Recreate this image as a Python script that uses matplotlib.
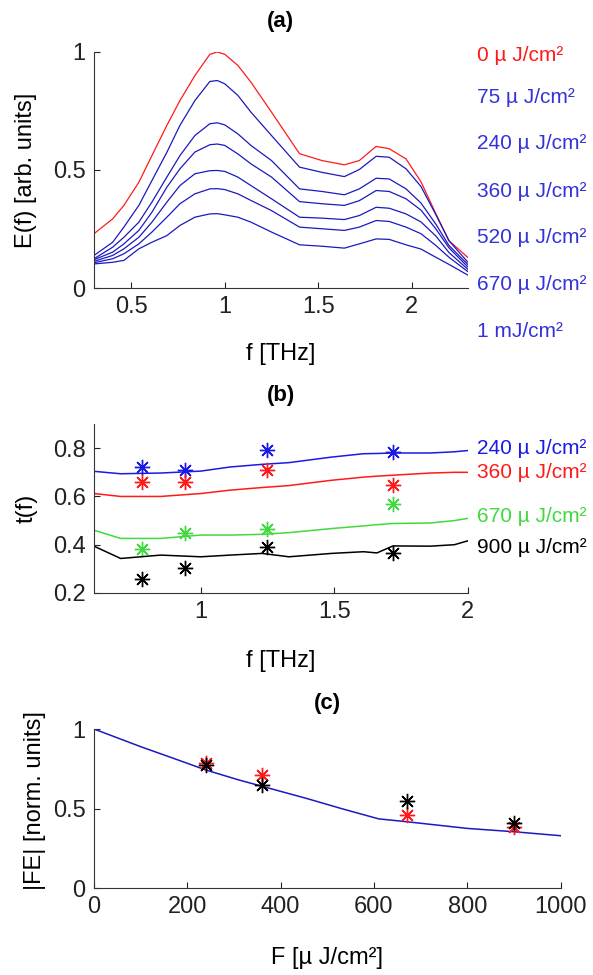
"""Three stacked panels: spectra, transmission and normalised field vs fluence."""
import matplotlib
matplotlib.use("Agg")
import matplotlib.pyplot as plt
from matplotlib.ticker import FormatStrFormatter

plt.rcParams["font.family"] = ["Liberation Sans", "DejaVu Sans"]

# ---- panel (a): spectral amplitude E(f) for each fluence ----
f_a = [0.30, 0.40, 0.46, 0.54, 0.61, 0.69, 0.76, 0.84, 0.92, 0.96, 1.00, 1.07, 1.14,
       1.25, 1.40, 1.52, 1.64, 1.72, 1.81, 1.88, 1.97, 2.05, 2.13, 2.20, 2.30]
E_0 = [0.23, 0.293, 0.35, 0.448, 0.561, 0.689, 0.794, 0.90, 0.99, 1.0, 0.99, 0.943, 0.872,
       0.745, 0.569, 0.54, 0.522, 0.54, 0.60, 0.59, 0.547, 0.45, 0.314, 0.20, 0.13]
E_75 = [0.138, 0.194, 0.258, 0.35, 0.455, 0.575, 0.689, 0.794, 0.875, 0.879, 0.865, 0.816, 0.745,
        0.646, 0.512, 0.49, 0.472, 0.502, 0.558, 0.554, 0.505, 0.43, 0.31, 0.20, 0.11]
E_240 = [0.124, 0.173, 0.215, 0.279, 0.364, 0.47, 0.561, 0.646, 0.696, 0.70, 0.691, 0.653, 0.604,
         0.54, 0.42, 0.409, 0.395, 0.42, 0.465, 0.462, 0.42, 0.36, 0.27, 0.18, 0.10]
E_360 = [0.12, 0.152, 0.187, 0.244, 0.321, 0.427, 0.505, 0.576, 0.607, 0.61, 0.604, 0.568, 0.526,
         0.47, 0.366, 0.357, 0.35, 0.37, 0.413, 0.409, 0.378, 0.33, 0.25, 0.17, 0.09]
E_520 = [0.113, 0.138, 0.166, 0.215, 0.279, 0.364, 0.434, 0.484, 0.497, 0.498, 0.494, 0.47, 0.434,
         0.378, 0.30, 0.296, 0.29, 0.307, 0.342, 0.338, 0.314, 0.28, 0.22, 0.15, 0.08]
E_670 = [0.107, 0.124, 0.145, 0.187, 0.237, 0.30, 0.357, 0.399, 0.42, 0.421, 0.417, 0.399, 0.371,
         0.328, 0.258, 0.251, 0.244, 0.258, 0.286, 0.282, 0.258, 0.23, 0.18, 0.13, 0.07]
E_1000 = [0.102, 0.109, 0.117, 0.166, 0.194, 0.222, 0.265, 0.30, 0.314, 0.315, 0.31, 0.30, 0.279,
          0.237, 0.183, 0.177, 0.169, 0.187, 0.208, 0.206, 0.183, 0.165, 0.13, 0.10, 0.055]
labels_a = ["0 µ J/cm²", "75 µ J/cm²", "240 µ J/cm²", "360 µ J/cm²",
            "520 µ J/cm²", "670 µ J/cm²", "1 mJ/cm²"]

# ---- panel (b): transmission t(f) ----
f_b = [0.60, 0.70, 0.85, 1.00, 1.11, 1.23, 1.33, 1.49, 1.61, 1.66, 1.72, 1.86, 1.95, 2.00]
t_240 = [0.704, 0.694, 0.697, 0.705, 0.722, 0.733, 0.74, 0.763, 0.777, 0.778, 0.78, 0.78, 0.785, 0.79]
t_360 = [0.612, 0.60, 0.60, 0.612, 0.626, 0.637, 0.645, 0.667, 0.68, 0.684, 0.688, 0.697, 0.70, 0.70]
t_670 = [0.46, 0.426, 0.426, 0.44, 0.44, 0.443, 0.45, 0.467, 0.478, 0.483, 0.488, 0.49, 0.50, 0.509]
t_900 = [0.394, 0.343, 0.357, 0.35, 0.357, 0.364, 0.35, 0.364, 0.371, 0.366, 0.395, 0.394, 0.40, 0.416]
f_meas = [0.78, 0.94, 1.25, 1.72]
tm_240 = [0.722, 0.708, 0.791, 0.784]
tm_360 = [0.66, 0.66, 0.708, 0.646]
tm_670 = [0.381, 0.447, 0.467, 0.57]
tm_900 = [0.26, 0.302, 0.391, 0.367]
labels_b = ["240 µ J/cm²", "360 µ J/cm²", "670 µ J/cm²", "900 µ J/cm²"]

# ---- panel (c): |FE| vs fluence ----
F_fit = [0, 100, 170, 240, 310, 385, 455, 530, 610, 670, 800, 900, 1000]
FE_fit = [1.0, 0.889, 0.816, 0.742, 0.68, 0.62, 0.564, 0.50, 0.435, 0.417, 0.375, 0.354, 0.329]
F_meas = [240, 360, 670, 900]
FE_red = [0.784, 0.711, 0.459, 0.386]
FE_black = [0.775, 0.648, 0.549, 0.411]

RED = (1.0, 0.1, 0.1)
BLUE = (0.1, 0.1, 0.75)
GREEN = (0.25, 0.85, 0.25)
ASTER = (8, 2, 0)

FS = 17


def style(ax):
    for side in ("top", "right"):
        ax.spines[side].set_visible(False)
    for side in ("left", "bottom"):
        ax.spines[side].set_color("#333333")
        ax.spines[side].set_linewidth(0.8)
    ax.tick_params(direction="in", length=4, labelsize=FS, colors="#222222", pad=6)


fig = plt.figure(figsize=(5.93, 9.75), dpi=100)

# (a)
ax = fig.add_axes([0.1585, 0.7046, 0.6302, 0.2421])
curves = [E_0, E_75, E_240, E_360, E_520, E_670, E_1000]
for i, E in enumerate(curves):
    ax.plot(f_a, E, color=RED if i == 0 else BLUE, lw=0.9)
ax.set_xlim(0.3, 2.3)
ax.set_ylim(0, 1)
ax.set_xticks([0.5, 1, 1.5, 2])
ax.set_yticks([0, 0.5, 1])
ax.xaxis.set_major_formatter(FormatStrFormatter("%g"))
ax.yaxis.set_major_formatter(FormatStrFormatter("%g"))
style(ax)
ax.set_xlabel("f [THz]", fontsize=FS)
ax.set_ylabel("E(f) [arb. units]", fontsize=FS)
ax.xaxis.set_label_coords(0.5, -0.233)
ax.yaxis.set_label_coords(-0.152, 0.5)
ax.text(0.5, 1.127, "(a)", transform=ax.transAxes, ha="center", va="center",
        fontsize=16, fontweight="bold")
ys_a = [0.987, 0.809, 0.614, 0.407, 0.212, 0.013, -0.186]
for i, (lab, y) in enumerate(zip(labels_a, ys_a)):
    ax.text(1.025, y, lab, transform=ax.transAxes, ha="left", va="center",
            fontsize=15, color=RED if i == 0 else (0.2, 0.2, 0.85), clip_on=False)

# (b)
ax = fig.add_axes([0.1585, 0.3918, 0.6302, 0.1733])
series_b = [(t_240, tm_240, (0.1, 0.1, 0.9)), (t_360, tm_360, RED),
            (t_670, tm_670, GREEN), (t_900, tm_900, "black")]
for t, tm, c in series_b:
    ax.plot(f_b, t, color=c, lw=1.1)
    ax.plot(f_meas, tm, ls="none", marker=ASTER, ms=11, mew=1.0, color=c)
ax.set_xlim(0.6, 2.0)
ax.set_ylim(0.2, 0.9)
ax.set_xticks([1, 1.5, 2])
ax.set_yticks([0.2, 0.4, 0.6, 0.8])
ax.xaxis.set_major_formatter(FormatStrFormatter("%g"))
ax.yaxis.set_major_formatter(FormatStrFormatter("%g"))
style(ax)
ax.set_xlabel("f [THz]", fontsize=FS)
ax.set_ylabel("t(f)", fontsize=FS)
ax.xaxis.set_label_coords(0.5, -0.337)
ax.yaxis.set_label_coords(-0.15, 0.5)
ax.text(0.5, 1.166, "(b)", transform=ax.transAxes, ha="center", va="center",
        fontsize=16, fontweight="bold")
ys_b = [0.858, 0.716, 0.45, 0.272]
for (t, tm, c), lab, y in zip(series_b, labels_b, ys_b):
    ax.text(1.025, y, lab, transform=ax.transAxes, ha="left", va="center",
            fontsize=15, color=c, clip_on=False)

# (c)
ax = fig.add_axes([0.1585, 0.0892, 0.7867, 0.1631])
ax.plot(F_fit, FE_fit, color=BLUE, lw=1.1)
ax.plot(F_meas, FE_red, ls="none", marker=ASTER, ms=11, mew=1.0, color=RED)
ax.plot(F_meas, FE_black, ls="none", marker=ASTER, ms=11, mew=1.0, color="black")
ax.set_xlim(0, 1000)
ax.set_ylim(0, 1)
ax.set_xticks([0, 200, 400, 600, 800, 1000])
ax.set_yticks([0, 0.5, 1])
ax.yaxis.set_major_formatter(FormatStrFormatter("%g"))
style(ax)
ax.set_xlabel("F [µ J/cm²]", fontsize=FS)
ax.set_ylabel("|FE| [norm. units]", fontsize=FS)
ax.xaxis.set_label_coords(0.5, -0.371)
ax.yaxis.set_label_coords(-0.103, 0.55)
ax.text(0.5, 1.163, "(c)", transform=ax.transAxes, ha="center", va="center",
        fontsize=16, fontweight="bold")

fig.savefig("out.png", dpi=100)
plt.close(fig)
